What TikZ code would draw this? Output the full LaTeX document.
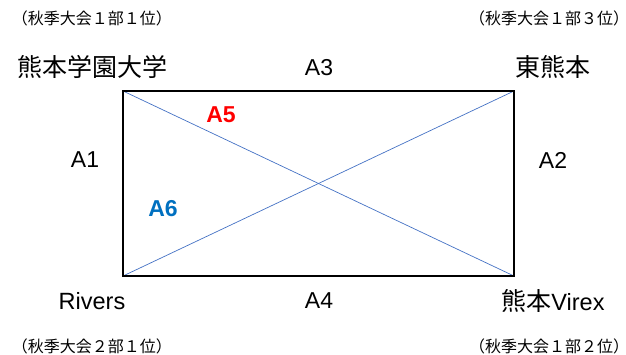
\documentclass[tikz,border=0pt]{standalone}
\usepackage{fontspec}
\setmainfont{Liberation Sans}
\newfontfamily\cjk{Noto Sans CJK JP}
\definecolor{diagblue}{HTML}{4472C4}
\definecolor{a6blue}{HTML}{0070C0}
\newcommand{\jp}[1]{{\fontsize{25}{25}\selectfont\cjk #1}}
\begin{document}
\begin{tikzpicture}[x=1pt,y=-1pt,
  rank/.style={font=\fontsize{16}{16}\selectfont\cjk, inner sep=0pt},
  team/.style={font=\fontsize{23.5}{25}\selectfont, inner sep=0pt},
  match/.style={font=\fontsize{23}{23}\selectfont, inner sep=0pt},
  hot/.style={font=\fontsize{23}{23}\selectfont\bfseries, inner sep=0pt},
  frame/.style={draw=black, line width=1.6pt},
  diag/.style={draw=diagblue, line width=0.7pt}]
\useasboundingbox (0,0) rectangle (626,355);
\coordinate (tl) at (123,91);
\coordinate (tr) at (514,91);
\coordinate (br) at (514,276);
\coordinate (bl) at (123,276);
\draw[diag] (tl) -- (br);
\draw[diag] (tr) -- (bl);
\draw[frame] (tl) -- (tr) -- (br) -- (bl) -- cycle;
% ranks
\node[rank] (r1) at (92,18) {（秋季大会１部１位）};
\node[rank] (r3) at (549,18) {（秋季大会１部３位）};
\node[rank] (r4) at (92,346) {（秋季大会２部１位）};
\node[rank] (r2) at (549,346) {（秋季大会１部２位）};
% teams
\node[team] (t1) at (92,67) {\jp{熊本学園大学}};
\node[team] (t2) at (553,67) {\jp{東熊本}};
\node[team] (t3) at (92,301) {Rivers};
\node[team] (t4) at (553,301) {\jp{熊本}Virex};
% matches
\node[match] (a3) at (319,68) {A3};
\node[match] (a4) at (319,301) {A4};
\node[match] (a1) at (85,160) {A1};
\node[match] (a2) at (553,160) {A2};
\node[hot, text=red] (a5) at (221,115) {A5};
\node[hot, text=a6blue] (a6) at (163,209) {A6};
\end{tikzpicture}
\end{document}
